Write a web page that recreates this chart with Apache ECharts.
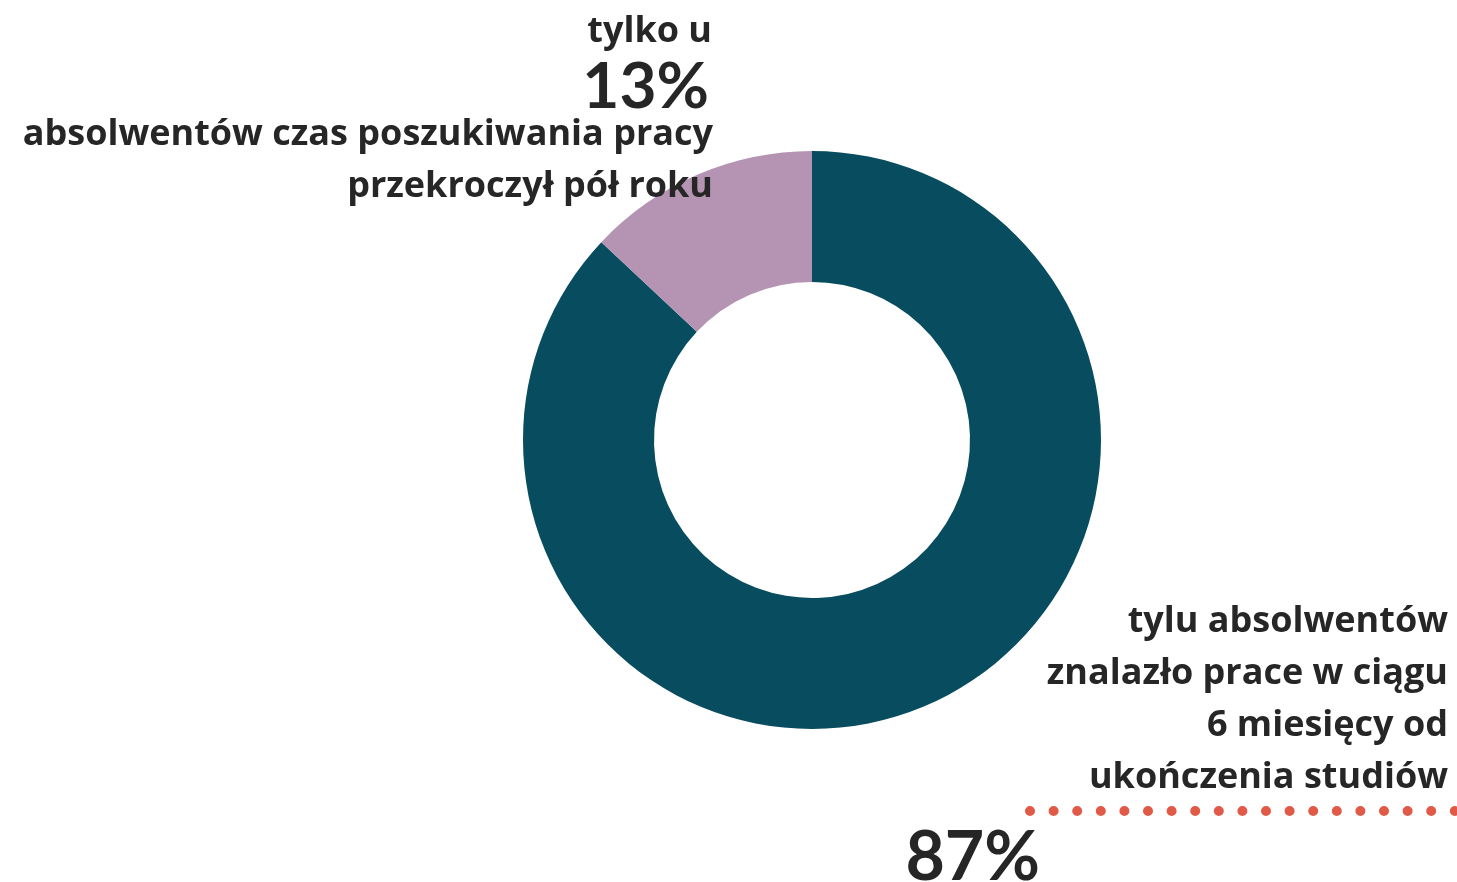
<!DOCTYPE html>
<html><head><meta charset="utf-8">
<script src="https://cdn.jsdelivr.net/npm/echarts@6/dist/echarts.min.js"></script>
<style>html,body{margin:0;padding:0;background:#fff}#c{width:1457px;height:882px}</style>
</head><body><div id="c"></div>
<script>
const categories = ['znalazło pracę w ciągu 6 miesięcy', 'czas poszukiwania pracy przekroczył pół roku'];
const values = [87, 13];
const colors = ['#074C5F', '#B593B2'];
const topLines = ['tylko u', '13%', 'absolwentów czas poszukiwania pracy', 'przekroczył pół roku'];
const bottomLines = ['tylu absolwentów', 'znalazło prace w ciągu', '6 miesięcy od', 'ukończenia studiów', '87%'];

const chart = echarts.init(document.getElementById('c'), null, {renderer: 'canvas'});
const txtColor = '#262626';
const ff = '"Open Sans", Lato, sans-serif';
const ffBig = 'Lato, sans-serif';
function t(text, x, y, size, align, fam) {
  return {type: 'text', x: x, y: y, z: 10, style: {text: text, fill: txtColor, font: 'bold ' + size + 'px ' + (fam || ff), textAlign: align || 'right', textVerticalAlign: 'middle'}};
}
const graphics = [
  t(topLines[0], 712, 32, 36),
  t(topLines[1], 709, 87, 64, 'right', ffBig),
  t(topLines[2], 713, 135, 36),
  t(topLines[3], 713, 187, 36),
  t(bottomLines[0], 1448, 622, 36),
  t(bottomLines[1], 1448, 674, 36),
  t(bottomLines[2], 1448, 726, 36),
  t(bottomLines[3], 1448, 778, 36),
  t(bottomLines[4], 1040, 858, 68, 'right', ffBig),
  {type: 'line', shape: {x1: 1030, y1: 811, x2: 1460, y2: 811}, style: {stroke: '#E05A47', lineWidth: 10, lineCap: 'round', lineDash: [0, 23.6]}}
];
chart.setOption({
  animation: false,
  series: [{
    type: 'pie',
    center: [812, 440],
    radius: [158, 289],
    startAngle: 90,
    clockwise: true,
    label: {show: false},
    labelLine: {show: false},
    silent: true,
    data: categories.map((c, i) => ({name: c, value: values[i], itemStyle: {color: colors[i]}}))
  }],
  graphic: graphics
});
</script></body></html>
